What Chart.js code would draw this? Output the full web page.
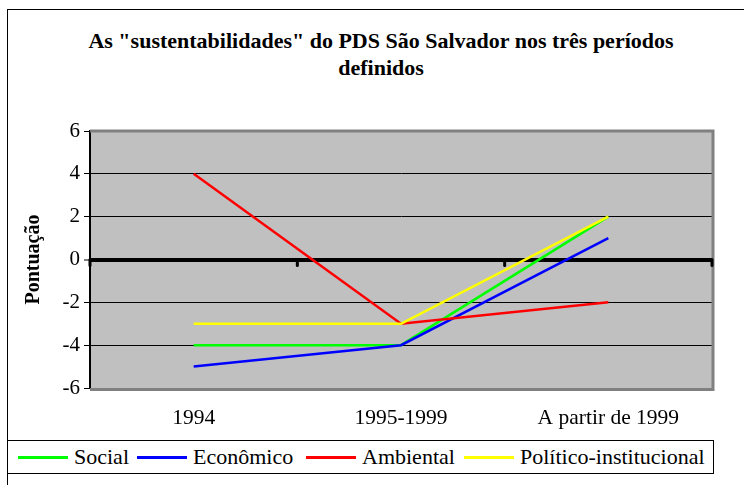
<!DOCTYPE html>
<html>
<head>
<meta charset="utf-8">
<script src="https://cdn.jsdelivr.net/npm/chart.js@4"></script>
<style>
    html, body { margin: 0; padding: 0; background: #fff; overflow: hidden; }
    body { width: 744px; height: 485px; position: relative; font-family: "Liberation Serif", "Times New Roman", Times, "DejaVu Serif", serif; }
    #frame { position: absolute; left: 7px; top: 9px; width: 800px; height: 520px; border: 1px solid #000; box-sizing: border-box; }
    #title { position: absolute; left: 7px; top: 27px; width: 748px; text-align: center; font-weight: bold; font-size: 22px; line-height: 27px; color: #000; }
    #wrap { position: absolute; left: 0; top: 0; width: 744px; height: 485px; }
    #legend { position: absolute; left: 7px; top: 440px; width: 707px; height: 34px; border: 1px solid #000; box-sizing: border-box; background: #fff; }
    .item { position: absolute; top: 0; height: 32px; display: flex; align-items: center; font-size: 22px; white-space: nowrap; }
    .swatch { width: 50px; height: 3px; margin-right: 6px; }
</style>
</head>
<body>
<div id="frame"></div>
<div id="title">As "sustentabilidades" do PDS São Salvador nos três períodos<br>definidos</div>
<div id="wrap"><canvas id="chart" width="744" height="485"></canvas></div>
<div id="legend"></div>
<script>
// --- Data ---
const categories = ['1994', '1995-1999', 'A partir de 1999'];
const seriesNames = ['Social', 'Econômico', 'Ambiental', 'Político-institucional'];
const social = [-4, -4, 2];
const economico = [-5, -4, 1];
const ambiental = [4, -3, -2];
const politico = [-3, -3, 2];
const yTicks = [-6, -4, -2, 0, 2, 4, 6];

const colors = ['#00ff00', '#0000ff', '#ff0000', '#ffff00'];
const values = [social, economico, ambiental, politico];
const legendLeft = [10, 129, 298, 456]; // relative to legend box
const serif = '"Liberation Serif", "Times New Roman", Times, "DejaVu Serif", serif';

// --- Legend (HTML) ---
const legendEl = document.getElementById('legend');
seriesNames.forEach((name, i) => {
    const item = document.createElement('div');
    item.className = 'item';
    item.style.left = legendLeft[i] + 'px';
    item.innerHTML = `<span class="swatch" style="background:${colors[i]}"></span><span>${name}</span>`;
    legendEl.appendChild(item);
});

// --- Plugins ---
const plotBackground = {
    id: 'plotBackground',
    beforeDraw(chart) {
        const { ctx, chartArea: a } = chart;
        ctx.save();
        ctx.fillStyle = '#c0c0c0';
        ctx.fillRect(a.left, a.top, a.right - a.left, a.bottom - a.top);
        ctx.restore();
    },
    afterDraw(chart) {
        const { ctx, chartArea: a, scales } = chart;
        ctx.save();
        // shadow on top, right and bottom
        ctx.strokeStyle = '#808080';
        ctx.lineWidth = 3;
        ctx.beginPath();
        ctx.moveTo(a.left, a.top);
        ctx.lineTo(a.right + 1, a.top);
        ctx.lineTo(a.right + 1, a.bottom + 1.5);
        ctx.lineTo(a.left, a.bottom + 1.5);
        ctx.stroke();
        // category axis tick marks on the zero line
        const y0 = scales.y.getPixelForValue(0);
        ctx.strokeStyle = '#000';
        ctx.lineWidth = 3;
        ctx.lineCap = 'round';
        for (let i = 0; i <= categories.length; i++) {
            const x = scales.x.getPixelForValue(i - 0.5);
            ctx.beginPath();
            ctx.moveTo(x, y0);
            ctx.lineTo(x, y0 + 6);
            ctx.stroke();
        }
        ctx.restore();
    }
};

// --- Chart ---
const ctx = document.getElementById('chart').getContext('2d');
new Chart(ctx, {
    type: 'line',
    data: {
        labels: categories,
        datasets: seriesNames.map((name, i) => ({
            label: name,
            data: values[i],
            borderColor: colors[i],
            backgroundColor: colors[i],
            borderWidth: 2.5,
            pointRadius: 0,
            tension: 0,
            order: seriesNames.length - i
        }))
    },
    options: {
        responsive: false,
        animation: false,
        layout: { padding: { left: 7, right: 32, top: 131, bottom: 52 } },
        plugins: {
            legend: { display: false },
            title: { display: false },
            tooltip: { enabled: false }
        },
        scales: {
            x: {
                type: 'category',
                offset: true,
                grid: { display: false, drawTicks: false },
                border: { display: false },
                ticks: { color: '#000', font: { family: serif, size: 21.5 }, padding: 17, maxRotation: 0 },
                afterFit(scale) { scale.height = 45; }
            },
            y: {
                min: -6,
                max: 6,
                afterBuildTicks(scale) { scale.ticks = yTicks.map(v => ({ value: v })); },
                ticks: { color: '#000', font: { family: serif, size: 21 }, padding: 4 },
                grid: {
                    color: c => (c.tick && (c.tick.value === -6 || c.tick.value === 6)) ? '#808080' : '#000',
                    lineWidth: c => (c.tick && c.tick.value === 0) ? 4 : 1,
                    tickLength: 6,
                    tickColor: '#000',
                    tickWidth: 1
                },
                border: { display: true, color: '#000', width: 2 },
                title: {
                    display: true,
                    text: 'Pontuação',
                    color: '#000',
                    font: { family: serif, size: 20, weight: 'bold' },
                    padding: { top: 15, bottom: 0 }
                },
                afterFit(scale) { scale.width = 83; }
            }
        }
    },
    plugins: [plotBackground]
});
</script>
</body>
</html>
